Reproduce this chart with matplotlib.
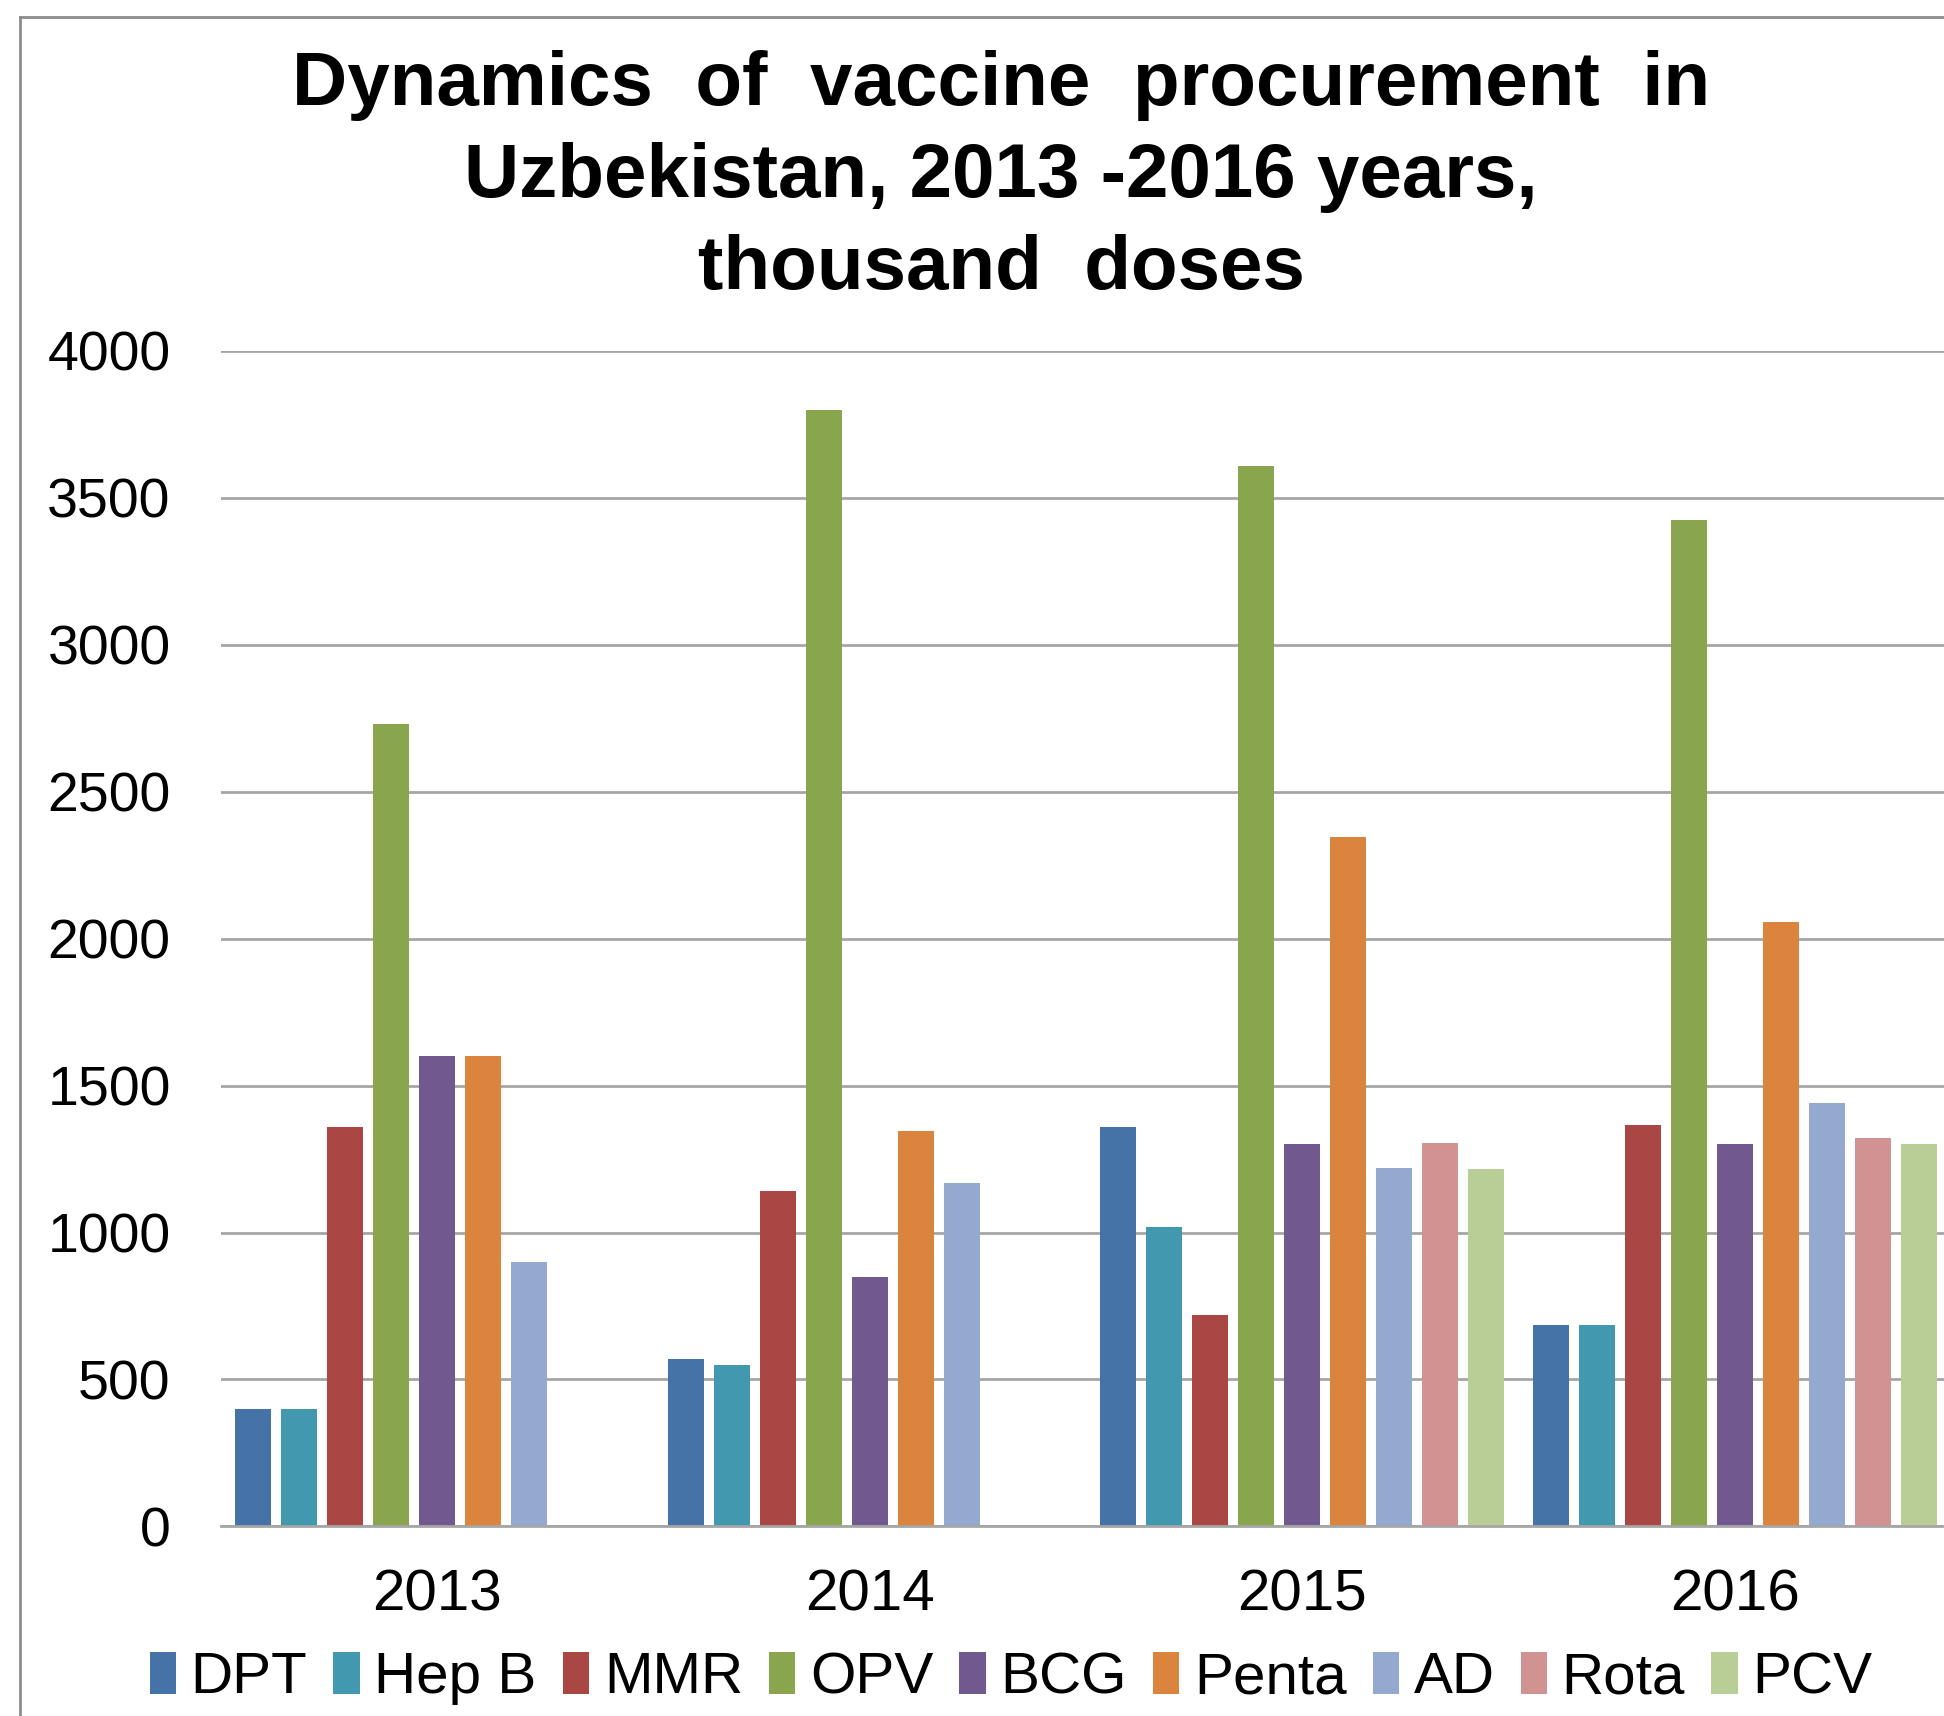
import numpy as np
import matplotlib.pyplot as plt
from matplotlib.lines import Line2D

plt.rcParams['font.family'] = ['Liberation Sans', 'DejaVu Sans']

years = ['2013', '2014', '2015', '2016']
vaccines = ['DPT', 'Hep B', 'MMR', 'OPV', 'BCG', 'Penta', 'AD', 'Rota', 'PCV']
colors = ['#4572A7', '#4198AF', '#AA4643', '#89A54E', '#71588F',
          '#DB843D', '#93A9CF', '#D19392', '#B9CD96']

# thousand doses, one list per vaccine (2013..2016); nan = not procured
dpt   = [400, 570, 1360, 685]
hepb  = [400, 550, 1020, 685]
mmr   = [1360, 1140, 720, 1365]
opv   = [2730, 3800, 3610, 3425]
bcg   = [1600, 850, 1300, 1300]
penta = [1600, 1345, 2345, 2055]
ad    = [900, 1170, 1220, 1440]
rota  = [np.nan, np.nan, 1305, 1320]
pcv   = [np.nan, np.nan, 1215, 1300]
series = [dpt, hepb, mmr, opv, bcg, penta, ad, rota, pcv]

fig = plt.figure(figsize=(19.44, 17.16), dpi=100)
ax = fig.add_axes([0.1135, 0.1105, 0.8903, 0.685])

x = np.arange(len(years))
slot = 0.1063
for i, (name, vals, c) in enumerate(zip(vaccines, series, colors)):
    ax.bar(x + (i - 4) * slot, vals, width=0.083, color=c, label=name, zorder=3)

ax.set_xlim(-0.5, 3.5)
ax.set_ylim(0, 4000)
ax.set_yticks(range(0, 4001, 500))
ax.set_xticks(x)
ax.set_xticklabels(years)
ax.yaxis.grid(True, color='#A6A6A6', linewidth=2, zorder=0)
for s in ['top', 'right', 'left']:
    ax.spines[s].set_visible(False)
ax.spines['bottom'].set_color('#A6A6A6')
ax.spines['bottom'].set_linewidth(2)
ax.spines['bottom'].set_zorder(4)
ax.tick_params(axis='y', length=0, labelsize=40, pad=36)
ax.tick_params(axis='x', length=0, labelsize=42, pad=30)

fig.text(0.515, 0.8965,
         'Dynamics  of  vaccine  procurement  in\nUzbekistan, 2013 -2016 years,\nthousand  doses',
         ha='center', va='center', fontsize=55, fontweight='bold', linespacing=1.38)

ax.legend(loc='center', bbox_to_anchor=(0.52, 0.022), bbox_transform=fig.transFigure,
          ncol=9, frameon=False, fontsize=42, handlelength=0.45, handleheight=0.75,
          handletextpad=0.25, columnspacing=0.45)

# outer chart border (left and top visible)
fig.add_artist(Line2D([0.0103, 0.0103], [0, 0.9899], color='#8C8C8C', linewidth=2))
fig.add_artist(Line2D([0.0103, 1], [0.9899, 0.9899], color='#8C8C8C', linewidth=2))

fig.savefig('out.png', dpi=100)
